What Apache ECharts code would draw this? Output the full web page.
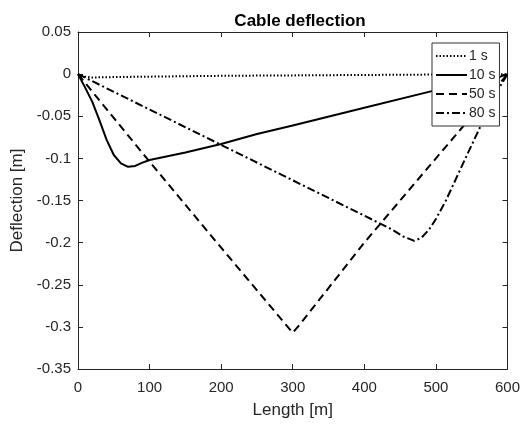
<!DOCTYPE html>
<html><head><meta charset="utf-8">
<script src="https://cdn.jsdelivr.net/npm/echarts@6/dist/echarts.min.js"></script>
<style>html,body{margin:0;padding:0;background:#fff}#c{width:523px;height:425px}</style>
</head><body><div id="c"></div>
<script>
var seriesNames = ['1 s', '10 s', '50 s', '80 s'];
var x1 = [0, 10, 20, 50, 100, 200, 300, 400, 500, 600];
var y1 = [0, -0.003, -0.004, -0.0035, -0.003, -0.002, -0.0015, -0.001, -0.0005, 0];
var x10 = [0, 10, 20, 30, 40, 50, 60, 70, 80, 90, 100, 150, 200, 250, 300, 400, 500, 560, 580, 590, 600];
var y10 = [0, -0.016, -0.033, -0.055, -0.078, -0.096, -0.106, -0.11, -0.109, -0.105, -0.102, -0.093, -0.083, -0.071, -0.061, -0.04, -0.019, -0.008, -0.005, -0.003, 0];
var x50 = [0, 100, 200, 290, 300, 310, 400, 500, 600];
var y50 = [0, -0.104, -0.206, -0.297, -0.307, -0.297, -0.2, -0.1, 0];
var x80 = [0, 100, 200, 300, 400, 440, 455, 470, 480, 490, 500, 514, 544, 570, 590, 600];
var y80 = [0, -0.042, -0.084, -0.126, -0.168, -0.185, -0.193, -0.198, -0.194, -0.185, -0.172, -0.15, -0.095, -0.048, -0.014, 0];
var xTicks = [0, 600, 100];
var yTicks = [-0.35, 0.05, 0.05];

function pairs(xs, ys) { return xs.map(function (x, i) { return [x, ys[i]]; }); }
var dashes = [[1.5, 2], 'solid', [8, 5], [8, 3, 2, 3]];
var dataSets = [pairs(x1, y1), pairs(x10, y10), pairs(x50, y50), pairs(x80, y80)];
var axisColor = '#262626';
var font = 'Liberation Sans, Arial, sans-serif';

var chart = echarts.init(document.getElementById('c'), null, {renderer: 'canvas'});
chart.setOption({
  animation: false,
  backgroundColor: '#fff',
  title: {
    text: 'Cable deflection', left: 295, top: 8, textAlign: 'center',
    textStyle: {fontFamily: font, fontSize: 17, fontWeight: 'bold', color: '#000'}
  },
  grid: {left: 78, right: 11, top: 32, bottom: 56, show: false},
  legend: {
    data: seriesNames, orient: 'vertical', left: 432, top: 43,
    backgroundColor: '#fff', borderColor: '#333', borderWidth: 1,
    padding: [6, 4, 6, 3], itemGap: 5, itemWidth: 31, itemHeight: 14,
    itemStyle: {opacity: 0},
    textStyle: {fontFamily: font, fontSize: 14, color: '#262626', padding: [0, 0, 0, -3]}
  },
  xAxis: [{
    type: 'value', min: xTicks[0], max: xTicks[1], interval: xTicks[2], position: 'bottom',
    name: 'Length [m]', nameLocation: 'middle', nameGap: 33,
    nameTextStyle: {fontFamily: font, fontSize: 17, color: axisColor},
    axisLine: {show: true, onZero: false, lineStyle: {color: axisColor, width: 1}},
    axisTick: {show: true, inside: true, length: 5, lineStyle: {color: axisColor}},
    axisLabel: {fontFamily: font, fontSize: 15, color: axisColor, margin: 11},
    splitLine: {show: false}
  }, {
    type: 'value', min: xTicks[0], max: xTicks[1], interval: xTicks[2], position: 'top',
    axisLine: {show: true, onZero: false, lineStyle: {color: axisColor, width: 1}},
    axisTick: {show: true, inside: true, length: 5, lineStyle: {color: axisColor}},
    axisLabel: {show: false}, splitLine: {show: false}
  }],
  yAxis: [{
    type: 'value', min: yTicks[0], max: yTicks[1], interval: yTicks[2], position: 'left',
    name: 'Deflection [m]', nameLocation: 'middle', nameGap: 52,
    nameTextStyle: {fontFamily: font, fontSize: 17, color: axisColor},
    axisLine: {show: true, onZero: false, lineStyle: {color: axisColor, width: 1}},
    axisTick: {show: true, inside: true, length: 5, lineStyle: {color: axisColor}},
    axisLabel: {fontFamily: font, fontSize: 15, color: axisColor, margin: 7,
      formatter: function (v) { return String(parseFloat(v.toFixed(2))); }},
    splitLine: {show: false}
  }, {
    type: 'value', min: yTicks[0], max: yTicks[1], interval: yTicks[2], position: 'right',
    axisLine: {show: true, onZero: false, lineStyle: {color: axisColor, width: 1}},
    axisTick: {show: true, inside: true, length: 5, lineStyle: {color: axisColor}},
    axisLabel: {show: false}, splitLine: {show: false}
  }],
  series: seriesNames.map(function (n, i) {
    return {
      name: n, type: 'line', xAxisIndex: 0, yAxisIndex: 0,
      data: dataSets[i], showSymbol: false, symbol: 'none',
      lineStyle: {color: '#000', width: 2, type: dashes[i]},
      itemStyle: {color: '#000'}
    };
  })
});
</script>
</body></html>
